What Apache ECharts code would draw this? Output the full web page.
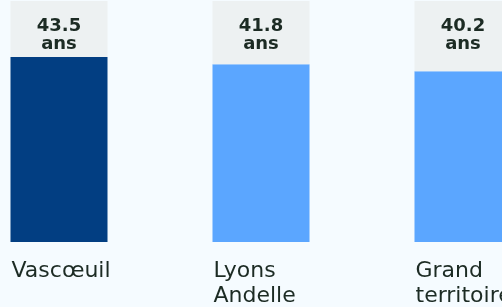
<!DOCTYPE html>
<html>
<head>
<meta charset="utf-8">
<script src="https://cdn.jsdelivr.net/npm/echarts@6/dist/echarts.min.js"></script>
<style>
html,body{margin:0;padding:0;background:#f5fbff;overflow:hidden;width:502px;height:307px;position:relative;}
#c{width:606px;height:307px;position:absolute;left:-42px;top:0;}
</style>
</head>
<body>
<div id="c"></div>
<script>
const categories = ['Vascœuil', 'Lyons\nAndelle', 'Grand\nterritoire'];
const values = [43.5, 41.8, 40.2];
const unit = 'ans';
const colors = ['#023e82', '#5ba6ff', '#5ba6ff'];
const axisMax = 56.7;

const chart = echarts.init(document.getElementById('c'));
chart.setOption({
  backgroundColor: '#f5fbff',
  animation: false,
  grid: { left: 0, right: 0, top: 1, bottom: 65, containLabel: false },
  xAxis: {
    type: 'category', data: categories,
    axisLine: { show: false }, axisTick: { show: false }, axisLabel: { show: false }
  },
  yAxis: { type: 'value', min: 0, max: axisMax, show: false, splitLine: { show: false } },
  series: [
    {
      type: 'bar', stack: 's', barWidth: 97,
      data: values.map((v, i) => ({ value: v, itemStyle: { color: colors[i] } })),
      label: {
        show: true,
        position: [1, '100%'],
        offset: [0, 17],
        formatter: p => categories[p.dataIndex],
        fontFamily: 'DejaVu Sans', fontSize: 22, lineHeight: 25,
        color: '#1c2b24', align: 'left', verticalAlign: 'top'
      }
    },
    {
      type: 'bar', stack: 's', barWidth: 97,
      data: values.map(v => +(axisMax - v).toFixed(2)),
      itemStyle: { color: '#edf1f2' },
      label: {
        show: true,
        position: 'insideTop',
        distance: 16,
        formatter: p => values[p.dataIndex].toFixed(1) + '\n' + unit,
        fontFamily: 'DejaVu Sans', fontWeight: 'bold', fontSize: 18, lineHeight: 18,
        color: '#1c2b24', align: 'center'
      }
    }
  ]
});
</script>
</body>
</html>
